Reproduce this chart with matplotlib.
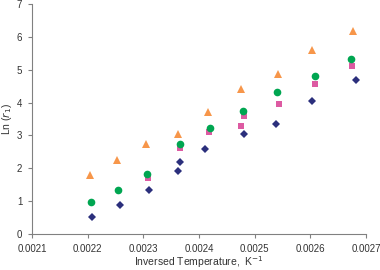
""" Ln(r1) versus inversed temperature """
import matplotlib
matplotlib.use("Agg")
import matplotlib.pyplot as plt

# triangles
tri_x = [0.002204, 0.002253, 0.002305, 0.002363, 0.002417, 0.002476, 0.002542, 0.002603, 0.002677]
tri_y = [1.79, 2.25, 2.74, 3.03, 3.71, 4.40, 4.88, 5.59, 6.18]
# circles
circ_x = [0.002206, 0.002255, 0.002306, 0.002365, 0.002420, 0.002479, 0.002541, 0.002609, 0.002673]
circ_y = [0.97, 1.34, 1.82, 2.73, 3.22, 3.75, 4.32, 4.80, 5.33]
# squares
sq_x = [0.002309, 0.002365, 0.002418, 0.002475, 0.002481, 0.002543, 0.002609, 0.002675]
sq_y = [1.71, 2.62, 3.09, 3.28, 3.59, 3.97, 4.58, 5.11]
# diamonds
dia_x = [0.002208, 0.002258, 0.002310, 0.002362, 0.002365, 0.002410, 0.002481, 0.002538, 0.002603, 0.002682]
dia_y = [0.52, 0.88, 1.34, 1.91, 2.18, 2.59, 3.04, 3.34, 4.04, 4.68]

x_ticks = [0.0021, 0.0022, 0.0023, 0.0024, 0.0025, 0.0026, 0.0027]
y_ticks = [0, 1, 2, 3, 4, 5, 6, 7]

plt.rcParams['font.family'] = ['Liberation Sans', 'DejaVu Sans']

fig = plt.figure(figsize=(3.8, 2.7), dpi=100)
ax = fig.add_axes([32/380, 36/270, 334/380, 230/270])

ax.plot(tri_x, tri_y, '^', color='#F7964A', markersize=5.5, markeredgewidth=0)
ax.plot(sq_x, sq_y, 's', color='#DD5AA2', markersize=5, markeredgewidth=0)
ax.plot(circ_x, circ_y, 'o', color='#00A651', markersize=5.5, markeredgewidth=0)
ax.plot(dia_x, dia_y, 'D', color='#2B2F7C', markersize=4.2, markeredgewidth=0)

ax.set_xlim(0.0021, 0.0027)
ax.set_ylim(0, 7)
ax.set_xticks(x_ticks)
ax.set_xticklabels(["%.4f" % v for v in x_ticks])
ax.set_yticks(y_ticks)

for s in ['top', 'right']:
    ax.spines[s].set_visible(False)
for s in ['left', 'bottom']:
    ax.spines[s].set_color('#808080')
    ax.spines[s].set_linewidth(0.8)
ax.tick_params(direction='out', length=3, width=0.8, color='#808080',
               labelsize=7, labelcolor='#333333', pad=4)

ax.set_xlabel("Inversed Temperature,  K$^{-1}$", fontsize=7.5, color='#333333', labelpad=0)
ax.set_ylabel("Ln ($r_1$)", fontsize=7.5, color='#333333', labelpad=2)

fig.savefig("out.png", dpi=100)
